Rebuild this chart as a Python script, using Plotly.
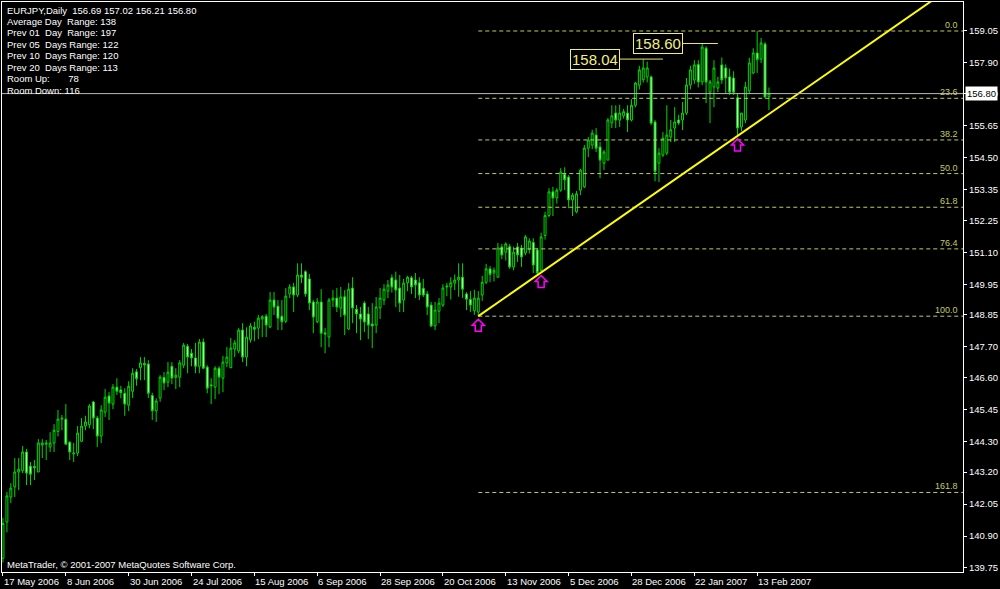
import plotly.graph_objects as go

# EURJPY daily bars, bar 0 = 17 May 2006 (weekends skipped, MetaTrader style)
opens = [
    140.10, 141.40, 142.30, 142.66, 143.20, 143.25, 143.92, 143.41, 143.40, 143.20,
    144.17, 144.20, 144.10, 144.24, 144.66, 145.10, 145.10, 144.27, 143.85, 143.88,
    144.30, 144.85, 144.90, 145.72, 145.14, 144.49, 145.35, 145.93, 145.64, 146.25,
    146.15, 146.03, 145.60, 146.10, 146.80, 146.95, 147.10, 147.08, 145.95, 145.40,
    145.86, 146.60, 146.43, 147.00, 146.60, 146.61, 147.04, 147.72, 147.47, 147.30,
    147.00, 147.87, 146.97, 146.33, 146.25, 146.93, 146.57, 147.12, 146.95, 147.62,
    147.55, 148.30, 147.33, 147.95, 148.40, 148.37, 148.70, 148.80, 148.41, 149.38,
    149.16, 148.80, 148.62, 149.60, 149.85, 149.56, 150.28, 150.40, 150.14, 149.31,
    148.60, 149.31, 148.20, 148.05, 149.38, 149.45, 149.09, 149.50, 148.34, 149.81,
    149.05, 148.88, 149.27, 148.88, 148.52, 148.48, 149.10, 149.38, 149.70, 150.18,
    150.10, 149.81, 149.38, 150.00, 150.18, 150.10, 150.00, 149.80, 149.60, 149.20,
    148.45, 148.98, 149.20, 149.85, 149.85, 149.99, 150.10, 150.20, 149.60, 149.40,
    149.00, 148.95, 149.56, 150.02, 150.50, 150.35, 150.20, 151.29, 151.10, 151.30,
    150.57, 151.29, 151.25, 151.07, 151.20, 151.45, 151.18, 150.45, 151.70, 152.42,
    153.27, 153.05, 153.33, 153.90, 153.80, 152.98, 152.55, 153.33, 153.45, 154.84,
    154.95, 155.31, 154.88, 154.30, 154.41, 155.75, 156.10, 155.85, 156.00, 156.10,
    155.85, 156.38, 157.10, 157.30, 157.40, 157.40, 155.78, 154.30, 154.59, 154.66,
    155.24, 155.56, 155.85, 155.85, 156.10, 157.11, 157.29, 157.85, 157.22, 158.43,
    156.85, 157.04, 157.00, 157.83, 157.72, 157.40, 157.36, 156.65, 155.60, 155.85,
    156.90, 157.54, 158.26, 158.04, 158.58, 156.69,
]
highs = [
    141.55, 142.48, 142.80, 143.70, 143.70, 144.13, 144.03, 143.56, 143.63, 144.38,
    144.38, 144.35, 144.63, 144.92, 145.43, 145.25, 145.64, 144.30, 144.24, 144.85,
    145.14, 145.22, 145.64, 145.75, 145.22, 145.60, 146.18, 146.07, 146.36, 146.57,
    146.30, 146.21, 146.46, 146.93, 146.90, 147.33, 147.33, 147.22, 146.05, 145.85,
    146.68, 146.79, 147.15, 147.15, 146.93, 147.22, 147.84, 147.80, 147.62, 147.84,
    147.98, 148.00, 147.04, 146.57, 147.00, 147.00, 147.37, 147.69, 148.02, 147.94,
    148.37, 148.55, 148.40, 148.55, 148.60, 148.84, 148.84, 148.88, 149.67, 149.67,
    149.38, 149.38, 149.81, 149.95, 150.00, 150.70, 150.70, 150.45, 150.32, 149.38,
    149.45, 149.77, 148.37, 149.45, 149.74, 149.81, 149.85, 149.74, 149.99, 150.20,
    149.20, 149.13, 149.34, 149.13, 149.27, 149.49, 149.81, 149.95, 150.10, 150.30,
    150.40, 150.28, 150.14, 150.25, 150.25, 150.35, 150.20, 150.14, 149.70, 149.31,
    149.31, 149.45, 149.95, 150.00, 150.20, 150.30, 150.70, 150.70, 149.66, 149.70,
    149.75, 149.70, 150.25, 150.68, 150.60, 150.55, 151.43, 151.40, 151.45, 151.40,
    151.30, 151.43, 151.36, 151.72, 151.60, 151.60, 151.25, 151.80, 152.55, 153.40,
    153.45, 153.40, 154.12, 154.15, 153.87, 153.23, 153.30, 154.10, 154.95, 155.24,
    155.50, 155.56, 155.06, 154.77, 155.92, 156.38, 156.38, 156.40, 156.25, 156.38,
    156.60, 157.22, 157.80, 158.04, 157.95, 157.45, 155.85, 154.84, 155.42, 156.38,
    155.85, 156.31, 156.03, 156.50, 157.36, 157.80, 158.00, 158.00, 158.60, 158.50,
    157.29, 158.00, 157.40, 158.10, 157.85, 157.70, 157.60, 156.80, 156.10, 157.22,
    158.08, 158.43, 159.05, 158.80, 158.65, 157.02,
]
lows = [
    139.95, 141.03, 142.08, 142.30, 142.55, 143.16, 142.73, 142.73, 142.91, 143.20,
    143.70, 143.63, 143.92, 143.92, 144.48, 144.70, 144.17, 143.63, 143.56, 143.77,
    144.30, 144.70, 144.77, 144.74, 144.10, 144.24, 145.18, 145.07, 145.46, 145.97,
    145.85, 145.22, 145.39, 145.86, 146.30, 146.50, 146.50, 145.86, 145.07, 145.00,
    145.72, 146.14, 146.25, 146.36, 146.18, 146.25, 146.93, 146.75, 147.00, 146.75,
    146.75, 146.90, 146.03, 145.64, 145.82, 146.00, 146.07, 146.97, 146.93, 147.33,
    147.47, 147.15, 147.00, 147.85, 147.90, 147.98, 148.05, 148.05, 148.37, 148.84,
    148.30, 148.30, 148.55, 149.45, 148.95, 149.49, 149.99, 149.50, 149.02, 148.19,
    148.55, 147.69, 147.47, 147.69, 149.13, 148.95, 148.77, 148.12, 148.30, 148.55,
    148.19, 147.94, 148.23, 147.98, 147.65, 148.19, 148.70, 149.20, 149.45, 149.65,
    149.13, 148.95, 148.95, 149.70, 149.60, 149.45, 149.38, 149.49, 148.84, 148.41,
    148.30, 148.55, 149.13, 149.52, 149.40, 149.74, 149.50, 149.45, 149.02, 148.95,
    148.85, 148.80, 149.35, 149.95, 150.02, 150.05, 150.20, 150.85, 150.80, 150.50,
    150.45, 150.75, 150.57, 150.99, 151.05, 150.35, 150.32, 150.37, 151.55, 152.35,
    152.40, 152.85, 153.27, 153.33, 152.68, 152.40, 152.50, 153.15, 153.40, 154.52,
    154.80, 154.70, 153.76, 154.05, 154.41, 155.56, 155.56, 155.60, 155.90, 155.42,
    155.80, 156.30, 156.95, 157.20, 157.20, 155.67, 153.65, 153.62, 154.52, 154.59,
    155.06, 155.06, 155.67, 155.49, 156.03, 156.95, 157.15, 157.02, 157.10, 156.46,
    155.74, 156.31, 156.85, 157.15, 156.80, 156.75, 156.75, 155.28, 155.45, 155.74,
    156.80, 157.50, 157.54, 157.90, 156.63, 156.21,
]
closes = [
    141.35, 142.34, 142.62, 143.20, 143.30, 143.92, 143.16, 143.12, 143.35, 144.24,
    144.24, 144.24, 144.24, 144.70, 145.10, 145.13, 144.20, 143.92, 143.88, 144.60,
    144.85, 145.00, 145.57, 145.14, 144.49, 145.43, 145.89, 145.68, 146.25, 146.10,
    146.05, 145.64, 146.28, 146.75, 146.55, 147.12, 147.05, 146.03, 145.40, 145.75,
    146.61, 146.40, 146.79, 146.58, 146.68, 147.12, 147.76, 147.33, 147.30, 147.00,
    147.87, 146.93, 146.21, 146.30, 146.93, 146.61, 147.15, 147.33, 147.65, 147.84,
    148.30, 147.33, 148.05, 148.45, 148.33, 148.73, 148.78, 148.48, 149.38, 149.13,
    148.73, 148.60, 149.52, 149.85, 149.56, 150.28, 150.20, 149.60, 149.27, 148.77,
    149.31, 148.19, 148.16, 149.38, 149.45, 149.13, 149.49, 148.84, 149.77, 149.09,
    148.88, 148.70, 148.59, 148.48, 148.45, 149.13, 149.45, 149.77, 149.92, 149.85,
    149.74, 149.27, 149.99, 150.20, 149.85, 149.92, 149.56, 149.56, 149.13, 148.45,
    149.02, 149.27, 149.81, 149.88, 150.00, 150.10, 150.20, 149.77, 149.41, 149.20,
    149.45, 149.45, 150.02, 150.50, 150.30, 150.45, 151.25, 151.00, 151.40, 150.57,
    151.10, 151.00, 150.93, 151.65, 151.50, 150.64, 150.36, 151.65, 152.42, 153.27,
    153.05, 153.33, 153.98, 153.70, 152.98, 153.15, 153.20, 154.05, 154.84, 155.13,
    155.38, 154.84, 154.41, 154.70, 155.85, 156.00, 155.85, 156.10, 156.15, 155.85,
    156.38, 157.18, 157.65, 157.72, 157.72, 155.74, 154.00, 154.66, 155.20, 155.31,
    155.50, 155.78, 155.74, 156.10, 157.11, 157.65, 157.83, 157.22, 158.47, 157.22,
    157.22, 157.72, 157.22, 157.29, 157.36, 156.85, 156.85, 155.56, 156.10, 157.04,
    157.90, 158.26, 158.02, 158.62, 156.68, 156.80,
]

date_ticks = [0, 16, 32, 48, 64, 80, 96, 112, 128, 144, 160, 176, 192]
date_labels = ['17 May 2006', '8 Jun 2006', '30 Jun 2006', '24 Jul 2006', '15 Aug 2006',
               '6 Sep 2006', '28 Sep 2006', '20 Oct 2006', '13 Nov 2006', '5 Dec 2006',
               '28 Dec 2006', '22 Jan 2007', '13 Feb 2007']

price_ticks = [159.05, 157.90, 156.80, 155.65, 154.50, 153.35, 152.25, 151.10, 149.95,
               148.85, 147.70, 146.60, 145.45, 144.30, 143.20, 142.05, 140.90, 139.75]

# Fibonacci retracement drawn from the swing low to the swing high
fib_high = 159.05
fib_low = 148.80
fib_start = 121
fib_levels = [0.0, 23.6, 38.2, 50.0, 61.8, 76.4, 100.0, 161.8]

# trend line through two lows
trend_x = [121, 187]
trend_y = [148.80, 155.28]

arrow_bars = [121, 137, 187]

marked_prices = [158.04, 158.60]
marked_from = [157, 173]
marked_to = [168, 182]

last_price = 156.80

info_lines = [
    'EURJPY,Daily\u00a0\u00a0156.69 157.02 156.21 156.80',
    'Average Day\u00a0\u00a0Range: 138',
    'Prev 01\u00a0\u00a0Day\u00a0\u00a0Range: 197',
    'Prev 05\u00a0\u00a0Days Range: 122',
    'Prev 10\u00a0\u00a0Days Range: 120',
    'Prev 20\u00a0\u00a0Days Range: 113',
    'Room Up:\u00a0\u00a0\u00a0\u00a0\u00a0\u00a0\u00a078',
    'Room Down: 116',
]

FONT = 'Liberation Sans'
CANDLE = 'rgb(0,215,0)'
BEAR_FILL = 'rgb(200,255,200)'
FIB = 'rgb(195,205,95)'
X_MIN, X_MAX = -0.25, 244.4
Y_MIN, Y_MAX = 139.606, 160.092
H_PLOT = 570.0

# hollow block arrow (MetaTrader "up arrow"), pixel offsets from the anchor
ARROW_PATH = 'M 0,-3 L 6,-9 L 3,-9 L 3,-15 L -3,-15 L -3,-9 L -6,-9 Z'

fig = go.Figure()

fig.add_trace(go.Candlestick(
    x=list(range(len(closes))), open=opens, high=highs, low=lows, close=closes,
    increasing=dict(line=dict(color=CANDLE, width=1), fillcolor='black'),
    decreasing=dict(line=dict(color=CANDLE, width=1), fillcolor=BEAR_FILL),
    whiskerwidth=0, hoverinfo='skip', showlegend=False,
))

# fibo levels
fib_range = fib_high - fib_low
for lvl in fib_levels:
    p = fib_high - lvl / 100 * fib_range
    fig.add_trace(go.Scatter(
        x=[fib_start, X_MAX], y=[p, p], mode='lines',
        line=dict(color=FIB, width=1, dash='4px,3px'),
        hoverinfo='skip', showlegend=False,
    ))
    fig.add_annotation(x=1, xref='paper', y=p, yref='y', text=f'{lvl:.1f}',
                       xanchor='right', yanchor='bottom', xshift=-3, yshift=-1,
                       showarrow=False, font=dict(family=FONT, size=9, color=FIB))

# trend line, extended to the right
slope = (trend_y[1] - trend_y[0]) / (trend_x[1] - trend_x[0])
x_end = 240
fig.add_trace(go.Scatter(
    x=[trend_x[0], x_end], y=[trend_y[0], trend_y[0] + slope * (x_end - trend_x[0])],
    mode='lines', line=dict(color='#ffff00', width=2),
    hoverinfo='skip', showlegend=False,
))

# up arrows under the lows
for b in arrow_bars:
    fig.add_shape(type='path', xref='x', yref='y', xsizemode='pixel', ysizemode='pixel',
                  xanchor=b, yanchor=lows[b], path=ARROW_PATH,
                  line=dict(color='#ff00ff', width=1.5))

# price label objects
for p, x0, x1 in zip(marked_prices, marked_from, marked_to):
    fig.add_shape(type='line', xref='x', yref='y', x0=x0, x1=x1, y0=p, y1=p,
                  line=dict(color='#e8e860', width=1))
    fig.add_annotation(x=x0, y=p, xref='x', yref='y', text=f'{p:.2f}',
                       xanchor='right', yanchor='middle', showarrow=False,
                       font=dict(family=FONT, size=15, color='#f0f080'),
                       bordercolor='#f0f070', borderwidth=1, borderpad=1, bgcolor='black')

# current price line + axis tag
fig.add_shape(type='line', xref='paper', yref='y', x0=0, x1=1, y0=last_price, y1=last_price,
              line=dict(color='#b8b8b8', width=1))
fig.add_annotation(x=1, xref='paper', y=last_price, yref='y', text=f'{last_price:.2f}',
                   xanchor='left', yanchor='middle', xshift=2, showarrow=False,
                   font=dict(family=FONT, size=9.5, color='black'), bgcolor='white', borderpad=1)

# info block, top left
for i, line in enumerate(info_lines):
    ypix = 10 + i * 11.5
    fig.add_annotation(x=0, xref='paper', y=1 - (ypix - 2) / H_PLOT, yref='paper',
                       text=line, xanchor='left', yanchor='middle', xshift=3,
                       showarrow=False, font=dict(family=FONT, size=9.5, color='white'))

fig.add_annotation(x=0, xref='paper', y=(572 - 564) / H_PLOT, yref='paper',
                   text='MetaTrader, \u00a9 2001-2007 MetaQuotes Software Corp.',
                   xanchor='left', yanchor='middle', xshift=3, showarrow=False,
                   font=dict(family=FONT, size=9.5, color='white'))

# date labels to the right of each tick
for t, lab in zip(date_ticks, date_labels):
    fig.add_annotation(x=t, xref='x', y=0, yref='paper', text=lab,
                       xanchor='left', yanchor='top', xshift=-1, yshift=-2,
                       showarrow=False, font=dict(family=FONT, size=9.5, color='white'))

fig.update_layout(
    width=1000, height=589,
    margin=dict(l=2, r=37, t=2, b=17),
    paper_bgcolor='black', plot_bgcolor='black',
    font=dict(family=FONT, color='white', size=9),
    showlegend=False,
    xaxis=dict(range=[X_MIN, X_MAX], rangeslider=dict(visible=False),
               showgrid=False, zeroline=False, showline=True, linecolor='white',
               linewidth=1, mirror=True, ticks='outside', tickvals=date_ticks,
               ticklen=3, tickcolor='white', showticklabels=False),
    yaxis=dict(range=[Y_MIN, Y_MAX], side='right', showgrid=False, zeroline=False,
               showline=True, linecolor='white', linewidth=1, mirror=True,
               ticks='outside', ticklen=3, tickcolor='white',
               tickvals=price_ticks, ticktext=[f'{v:.2f}' for v in price_ticks],
               tickfont=dict(family=FONT, size=9.5, color='white')),
)

fig.write_html("out.html", config={'displayModeBar': False},
               post_script="document.body.style.margin='0';document.body.style.background='black';")
